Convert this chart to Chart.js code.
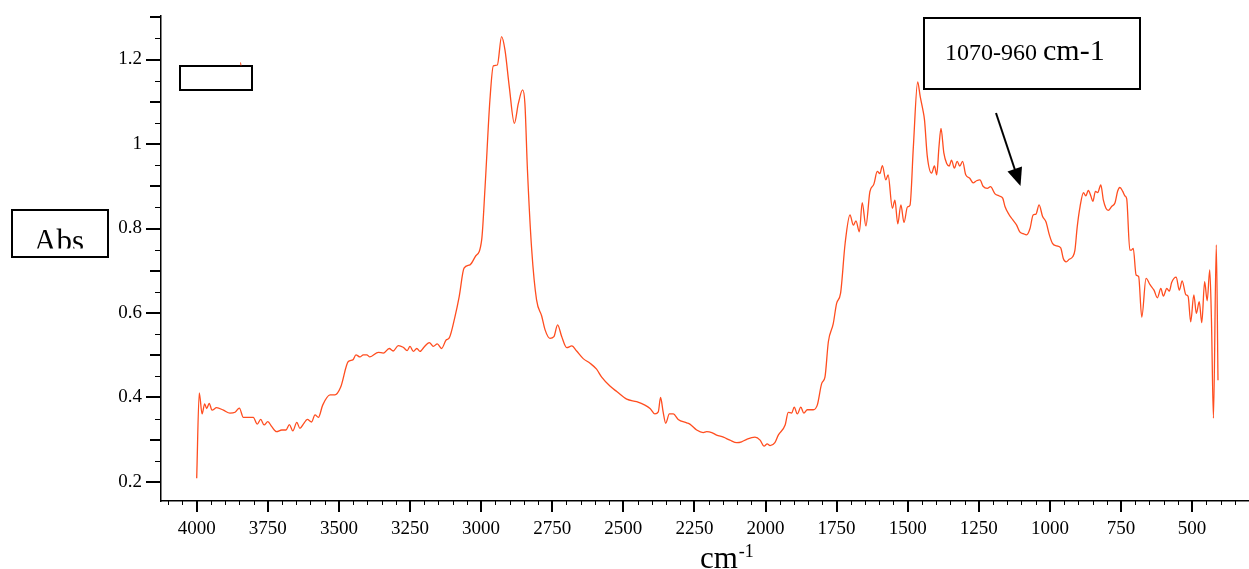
<!DOCTYPE html>
<html>
<head>
<meta charset="utf-8">
<script src="https://cdn.jsdelivr.net/npm/chart.js@4.4.0/dist/chart.umd.min.js"></script>
<style>
  html, body { margin: 0; padding: 0; background: #fff; }
  #wrap { width: 1249px; height: 569px; position: relative; }
</style>
</head>
<body>
<div id="wrap"><canvas id="myChart"></canvas></div>
<script>
// spectrum (wavenumber, absorbance)
const wavenumbers = [
  4000, 3991, 3981, 3972, 3965, 3956, 3946, 3930, 3906, 3883, 3865, 3850, 3836, 3801, 3787, 3775, 3763, 3750,
  3736, 3719, 3701, 3686, 3674, 3662, 3648, 3637, 3625, 3611, 3596, 3584, 3572, 3557, 3531, 3514, 3494, 3467,
  3451, 3440, 3426, 3414, 3402, 3391, 3361, 3344, 3323, 3309, 3291, 3274, 3260, 3250, 3238, 3226, 3215, 3201,
  3182, 3168, 3154, 3139, 3123, 3112, 3092, 3077, 3060, 3039, 3021, 2998, 2986, 2969, 2957, 2943, 2928, 2916,
  2901, 2883, 2869, 2854, 2846, 2837, 2822, 2805, 2787, 2775, 2758, 2744, 2731, 2717, 2699, 2681, 2664, 2641,
  2617, 2594, 2576, 2547, 2523, 2488, 2453, 2424, 2406, 2389, 2377, 2369, 2360, 2351, 2338, 2324, 2307, 2277,
  2266, 2242, 2219, 2207, 2189, 2172, 2148, 2125, 2101, 2084, 2066, 2037, 2019, 2005, 1994, 1984, 1967, 1955,
  1931, 1920, 1908, 1899, 1888, 1876, 1865, 1853, 1832, 1818, 1802, 1791, 1779, 1762, 1750, 1736, 1720, 1703,
  1691, 1682, 1670, 1660, 1647, 1633, 1619, 1607, 1598, 1589, 1577, 1569, 1554, 1545, 1535, 1524, 1513, 1501,
  1492, 1480, 1465, 1456, 1447, 1441, 1431, 1416, 1406, 1398, 1390, 1383, 1373, 1363, 1354, 1346, 1336, 1326,
  1317, 1307, 1296, 1282, 1270, 1258, 1246, 1235, 1220, 1209, 1193, 1178, 1166, 1158, 1143, 1131, 1117, 1106,
  1094, 1082, 1070, 1059, 1049, 1038, 1026, 1014, 1002, 991, 976, 962, 953, 943, 932, 920, 912, 904,
  894, 882, 874, 865, 856, 849, 840, 832, 821, 812, 803, 795, 783, 771, 762, 754, 744, 736,
  730, 719, 713, 707, 697, 688, 677, 662, 648, 634, 622, 610, 601, 589, 580, 572, 556, 545,
  535, 522, 514, 505, 494, 485, 475, 466, 456, 447, 438, 432, 425, 415, 409
];
const absorbance = [
  0.209, 0.411, 0.361, 0.385, 0.374, 0.386, 0.370, 0.376, 0.370, 0.363, 0.365, 0.375, 0.353, 0.353, 0.337, 0.348, 0.335, 0.343,
  0.331, 0.319, 0.323, 0.323, 0.336, 0.321, 0.341, 0.327, 0.337, 0.348, 0.342, 0.359, 0.353, 0.382, 0.406, 0.406, 0.424, 0.485,
  0.489, 0.501, 0.496, 0.501, 0.501, 0.496, 0.507, 0.505, 0.516, 0.510, 0.523, 0.519, 0.511, 0.521, 0.509, 0.516, 0.509, 0.519,
  0.530, 0.521, 0.527, 0.516, 0.536, 0.541, 0.591, 0.639, 0.706, 0.714, 0.733, 0.773, 0.899, 1.104, 1.185, 1.187, 1.254, 1.222,
  1.136, 1.049, 1.096, 1.128, 1.096, 0.938, 0.749, 0.631, 0.593, 0.560, 0.540, 0.544, 0.572, 0.545, 0.518, 0.522, 0.510, 0.492,
  0.481, 0.467, 0.448, 0.427, 0.414, 0.396, 0.390, 0.382, 0.374, 0.361, 0.366, 0.400, 0.366, 0.339, 0.361, 0.361, 0.348, 0.340,
  0.337, 0.323, 0.317, 0.319, 0.317, 0.311, 0.306, 0.299, 0.293, 0.295, 0.301, 0.306, 0.299, 0.285, 0.290, 0.286, 0.293, 0.311,
  0.335, 0.365, 0.363, 0.377, 0.361, 0.377, 0.363, 0.371, 0.371, 0.382, 0.434, 0.448, 0.532, 0.574, 0.623, 0.647, 0.765, 0.832,
  0.808, 0.818, 0.792, 0.861, 0.806, 0.887, 0.905, 0.935, 0.930, 0.949, 0.915, 0.927, 0.848, 0.867, 0.811, 0.856, 0.814, 0.851,
  0.855, 0.995, 1.147, 1.112, 1.082, 1.057, 0.970, 0.931, 0.948, 0.927, 0.994, 1.037, 0.979, 0.954, 0.948, 0.962, 0.943, 0.959,
  0.948, 0.959, 0.927, 0.919, 0.908, 0.913, 0.915, 0.900, 0.895, 0.899, 0.882, 0.877, 0.872, 0.852, 0.832, 0.821, 0.808, 0.792,
  0.788, 0.785, 0.800, 0.832, 0.834, 0.856, 0.829, 0.816, 0.785, 0.765, 0.759, 0.754, 0.729, 0.721, 0.727, 0.733, 0.749, 0.804,
  0.852, 0.885, 0.877, 0.890, 0.877, 0.864, 0.888, 0.885, 0.903, 0.867, 0.848, 0.843, 0.852, 0.861, 0.888, 0.897, 0.888, 0.877,
  0.870, 0.749, 0.749, 0.753, 0.690, 0.686, 0.590, 0.682, 0.667, 0.654, 0.636, 0.658, 0.640, 0.658, 0.652, 0.672, 0.685, 0.654,
  0.676, 0.643, 0.639, 0.579, 0.643, 0.599, 0.627, 0.577, 0.674, 0.629, 0.702, 0.583, 0.351, 0.761, 0.441
];

const xTickLabels = [4000, 3750, 3500, 3250, 3000, 2750, 2500, 2250, 2000, 1750, 1500, 1250, 1000, 750, 500];
const yTickLabels = [0.2, 0.4, 0.6, 0.8, 1, 1.2];
const yTitle = "Abs";
const xTitle = "cm";
const xTitleSup = "-1";
const noteNumbers = "1070-960 ";
const noteUnit = "cm-1";

const serif = "'Liberation Serif', 'DejaVu Serif', serif";

function near(list, v, eps) {
  return list.some(t => Math.abs(t - v) < eps);
}

// tick marks of three lengths, placed by the chart's own scales
const tickMarks = {
  id: 'tickMarks',
  afterDraw(chart) {
    const ctx = chart.ctx;
    const xs = chart.scales.x, ys = chart.scales.y;
    ctx.save();
    ctx.strokeStyle = '#000';
    xs.ticks.forEach(t => {
      const v = t.value;
      if (Math.abs(v / 50 - Math.round(v / 50)) > 1e-6) return;
      const px = Math.round(xs.getPixelForValue(v));
      const major = Math.abs(v % 250) < 1e-6;
      ctx.lineWidth = major ? 2 : 1;
      ctx.beginPath();
      ctx.moveTo(px + (major ? 0 : 0.5), xs.top);
      ctx.lineTo(px + (major ? 0 : 0.5), xs.top + (major ? 11 : 4));
      ctx.stroke();
    });
    ys.ticks.forEach(t => {
      const v = t.value;
      if (Math.abs(v / 0.05 - Math.round(v / 0.05)) > 1e-6) return;
      const py = Math.round(ys.getPixelForValue(v));
      let len = 6, lw = 1;
      if (near(yTickLabels, v, 1e-6)) { len = 15; lw = 2; }
      else if (Math.abs(v / 0.1 - Math.round(v / 0.1)) < 1e-6) { len = 11; lw = 2; }
      ctx.lineWidth = lw;
      ctx.beginPath();
      ctx.moveTo(ys.right, py + (lw === 1 ? 0.5 : 0));
      ctx.lineTo(ys.right - len, py + (lw === 1 ? 0.5 : 0));
      ctx.stroke();
    });
    ctx.restore();
  }
};

// boxes, texts and arrow around the plot
const notes = {
  id: 'notes',
  afterDraw(chart) {
    const ctx = chart.ctx;
    ctx.save();
    ctx.strokeStyle = '#000';
    ctx.fillStyle = '#000';
    ctx.lineWidth = 2;

    // "Abs" box (text cut at the bottom like the original)
    ctx.strokeRect(12, 210, 96, 47);
    ctx.save();
    ctx.beginPath();
    ctx.rect(13, 211, 94, 37.5);
    ctx.clip();
    ctx.font = '31px ' + serif;
    ctx.textBaseline = 'alphabetic';
    ctx.fillText(yTitle, 34, 251);
    ctx.restore();

    // empty box top left
    ctx.strokeRect(180, 66, 72, 24);
    ctx.strokeStyle = '#ff4d1f';
    ctx.lineWidth = 1;
    ctx.beginPath();
    ctx.moveTo(240.5, 62.5);
    ctx.lineTo(241, 65.5);
    ctx.stroke();
    ctx.strokeStyle = '#000';
    ctx.lineWidth = 2;

    // annotation box
    ctx.strokeRect(924, 18, 216, 71);
    ctx.textBaseline = 'alphabetic';
    ctx.font = '24px ' + serif;
    ctx.fillText(noteNumbers, 945, 60);
    const w = ctx.measureText(noteNumbers).width;
    ctx.font = '30px ' + serif;
    ctx.fillText(noteUnit, 945 + w, 60);

    // arrow
    ctx.lineWidth = 2;
    ctx.beginPath();
    ctx.moveTo(996, 113);
    ctx.lineTo(1015, 170);
    ctx.stroke();
    ctx.beginPath();
    ctx.moveTo(1020.5, 186);
    ctx.lineTo(1007.5, 171.5);
    ctx.lineTo(1022, 166.5);
    ctx.closePath();
    ctx.fill();

    // x axis title with superscript
    ctx.font = '31px ' + serif;
    ctx.fillText(xTitle, 700, 568);
    const cw = ctx.measureText(xTitle).width;
    ctx.font = '18px ' + serif;
    ctx.fillText(xTitleSup, 700 + cw + 1, 557);
    ctx.restore();
  }
};

function noPad(s) {
  s.paddingTop = 0; s.paddingBottom = 0; s.paddingLeft = 0; s.paddingRight = 0;
}

const graph = new Chart('myChart', {
  type: 'line',
  data: {
    datasets: [{
      data: wavenumbers.map((w, i) => ({ x: w, y: absorbance[i] })),
      borderColor: '#ff4d1f',
      borderWidth: 1.3,
      pointRadius: 0,
      fill: false,
      cubicInterpolationMode: 'monotone'
    }]
  },
  options: {
    responsive: true,
    maintainAspectRatio: false,
    animation: false,
    layout: { padding: { top: 16, right: 0, bottom: 0, left: 0 } },
    plugins: {
      legend: { display: false },
      tooltip: { enabled: false }
    },
    scales: {
      x: {
        type: 'linear',
        reverse: true,
        min: 300,
        max: 4125.5,
        afterFit: s => { s.height = 68; noPad(s); },
        grid: { display: false, drawTicks: false },
        border: { display: true, color: '#000', width: 1.5 },
        ticks: {
          stepSize: 50,
          includeBounds: false,
          autoSkip: false,
          maxRotation: 0,
          padding: 17,
          color: '#000',
          font: { family: serif, size: 19 },
          callback: v => near(xTickLabels, v, 1e-6) ? String(v) : ''
        }
      },
      y: {
        type: 'linear',
        min: 0.155,
        max: 1.303,
        afterFit: s => { s.width = 161; noPad(s); },
        grid: { display: false, drawTicks: false },
        border: { display: true, color: '#000', width: 1.5 },
        ticks: {
          stepSize: 0.05,
          includeBounds: false,
          autoSkip: false,
          padding: 19,
          color: '#000',
          font: { family: serif, size: 19 },
          callback: v => {
            const hit = yTickLabels.find(t => Math.abs(t - v) < 1e-6);
            return hit === undefined ? '' : String(hit);
          }
        }
      }
    }
  },
  plugins: [tickMarks, notes]
});
</script>
</body>
</html>
